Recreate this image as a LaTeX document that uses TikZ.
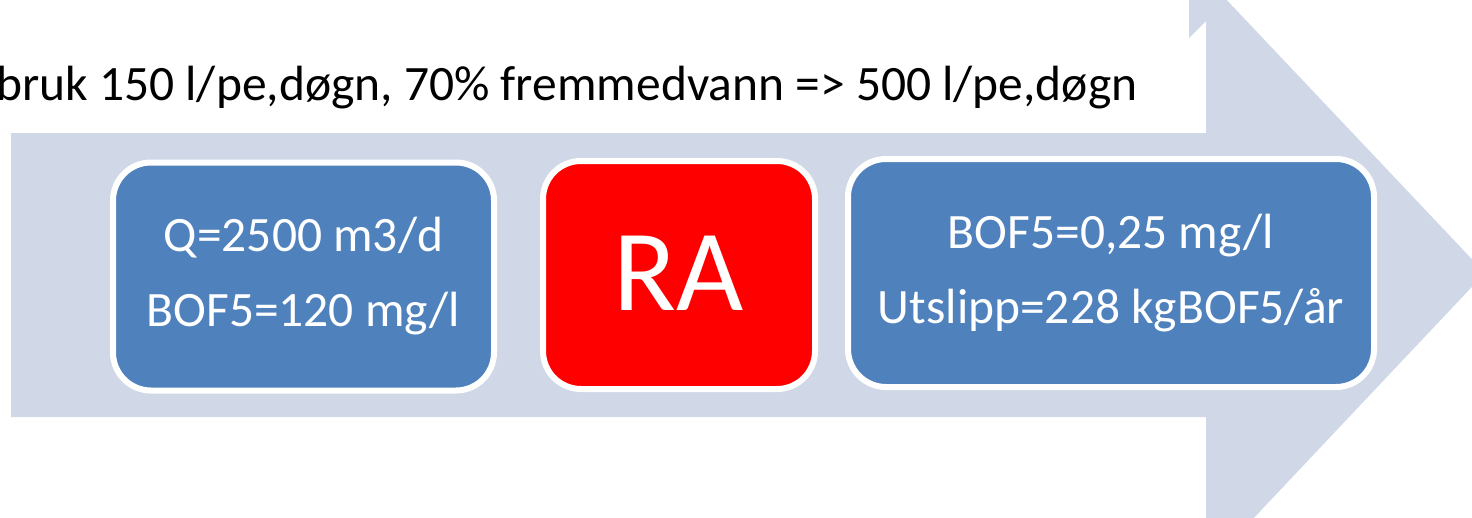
\documentclass[tikz,border=0pt]{standalone}
\usepackage{fontspec}
\setmainfont{Carlito}
\definecolor{flowbg}{HTML}{D0D8E8}
\definecolor{stageblue}{HTML}{4F81BD}
\definecolor{stagered}{HTML}{FF0000}
\begin{document}
\begin{tikzpicture}[x=1pt,y=-1pt,
  stagebox/.style={draw=white, line width=6pt, rounded corners=38pt,
    minimum height=228pt, inner sep=0pt, text=white, align=center},
  stagetext/.style={font=\fontsize{49.5}{75}\selectfont},
  headline/.style={font=\fontsize{49.5}{60}\selectfont, text=black, inner sep=0pt, anchor=base west}]
  \useasboundingbox (0,0) rectangle (1472,517);
  \clip (0,0) rectangle (1472,517);
  % large background arrow
  \fill[flowbg] (11,133) -- (1206,133) -- (1206,21) -- (1189,38) -- (1189,-5)
    -- (1222,-5) -- (1485,273) -- (1250,522) -- (1206,522) -- (1206,417)
    -- (11,417) -- cycle;
  % heading line
  \node[headline] (head) at (-4,100) {bruk 150 l/pe,døgn, 70\% fremmedvann => 500 l/pe,døgn};
  % process stages
  \node[stagebox, fill=stageblue, minimum width=381pt, stagetext] (inflow) at (303.5,276.5)
    {Q=2500 m3/d\\BOF5=120 mg/l};
  \node[stagebox, fill=stagered, minimum width=272pt, font=\fontsize{116}{120}\selectfont] (plant) at (679,275)
    {\raisebox{4pt}{RA}};
  \node[stagebox, fill=stageblue, minimum width=526pt, stagetext] (outflow) at (1111,273)
    {BOF5=0,25 mg/l\\Utslipp=228 kgBOF5/år};
\end{tikzpicture}
\end{document}
